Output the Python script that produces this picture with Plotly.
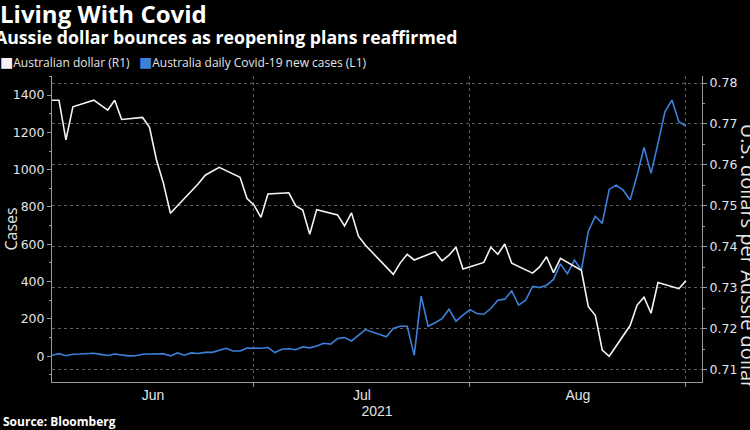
import pandas as pd
import plotly.graph_objects as go

# ---------------- data ----------------
aud_start, aud_end = "2021-06-01", "2021-08-31"
aud_values = [
    # June (business days)
    0.7758, 0.7758, 0.7661, 0.7742, 0.7758, 0.7746, 0.7734, 0.7758, 0.7711, 0.7716, 0.7692,
    0.7612, 0.7555, 0.7482, 0.7535, 0.7554, 0.7575, 0.7585, 0.7594, 0.7570, 0.7518, 0.7502,
    # July
    0.7472, 0.7529, 0.7532, 0.7500, 0.7490, 0.7431, 0.7491, 0.7478, 0.7451, 0.7483, 0.7426,
    0.7404, 0.7351, 0.7333, 0.7361, 0.7382, 0.7368, 0.7388, 0.7366, 0.7380, 0.7399, 0.7346,
    # August
    0.7362, 0.7399, 0.7382, 0.7407, 0.7360, 0.7336, 0.7351, 0.7376, 0.7337, 0.7372, 0.7343,
    0.7254, 0.7233, 0.7148, 0.7133, 0.7208, 0.7258, 0.7277, 0.7238, 0.7313, 0.7298, 0.7317,
]

case_start, case_end = "2021-06-01", "2021-08-31"
case_values = [
    # June (daily)
    5, 14, 3, 11, 12, 14, 16, 10, 4, 12, 7, 2, 3, 11, 12, 12, 13, 2, 18, 6,
    18, 15, 21, 21, 32, 43, 28, 28, 44, 43,
    # July
    43, 47, 20, 38, 40, 35, 50, 45, 55, 70, 65, 95, 100, 82, 110, 143, 130, 117, 104, 149,
    161, 161, 5, 322, 161, 180, 202, 252, 188, 220, 250,
    # August
    229, 225, 256, 300, 306, 350, 274, 300, 375, 368, 381, 412, 495, 442, 515, 462, 670, 750,
    712, 894, 917, 890, 837, 970, 1119, 980, 1141, 1310, 1373, 1257, 1234,
]

month_labels = ["Jun", "Jul", "Aug"]
month_ends = ["2021-06-30", "2021-07-31", "2021-08-31"]
year_label = "2021"
left_ticks = [0, 200, 400, 600, 800, 1000, 1200, 1400]
right_ticks = [0.71, 0.72, 0.73, 0.74, 0.75, 0.76, 0.77, 0.78]

title_text = "Living With Covid"
subtitle_text = "Aussie dollar bounces as reopening plans reaffirmed"
aud_name = "Australian dollar (R1)"
case_name = "Australia daily Covid-19 new cases (L1)"
left_title = "Cases"
right_title = "U.S. dollars per Aussie dollar"
source_text = "Source: Bloomberg"

# ---------------- styling ----------------
BLUE = "#3c80da"
WHITE = "#f4f4f4"
GRID = "#5e5e5e"
AXIS = "#9a9a9a"
TXT = "#e4e4e4"

aud_dates = pd.bdate_range(aud_start, aud_end)
case_dates = pd.date_range(case_start, case_end)

x_lo = pd.Timestamp("2021-06-01 00:00")
x_hi = pd.Timestamp("2021-09-02 07:40")

# label positions: centre of each visible month span
bounds = [x_lo] + [pd.Timestamp(m) for m in month_ends]
label_pos = [bounds[i] + (bounds[i + 1] - bounds[i]) / 2 for i in range(len(month_labels))]

fig = go.Figure()
fig.add_trace(go.Scatter(
    x=case_dates, y=case_values, name=case_name, mode="lines",
    line=dict(color=BLUE, width=1.6), yaxis="y",
))
fig.add_trace(go.Scatter(
    x=aud_dates, y=aud_values, name=aud_name, mode="lines",
    line=dict(color=WHITE, width=1.6), yaxis="y2",
))

fig.update_layout(
    width=750, height=430,
    margin=dict(l=52, r=48, t=76, b=48),
    paper_bgcolor="black", plot_bgcolor="black",
    showlegend=False,
    xaxis=dict(
        automargin=False,
        range=[x_lo, x_hi],
        tickmode="array", tickvals=label_pos, ticktext=month_labels,
        ticks="", showgrid=False, zeroline=False,
        showline=True, linecolor=AXIS, linewidth=1,
        tickfont=dict(family="Liberation Sans", size=14, color=TXT),
        title=dict(text=year_label, font=dict(family="Liberation Sans", size=14, color=TXT), standoff=0),
        minor=dict(tickmode="array", tickvals=month_ends, showgrid=True,
                   gridcolor=GRID, griddash="dot", gridwidth=1,
                   ticks="outside", ticklen=4, tickcolor=AXIS),
    ),
    yaxis=dict(
        automargin=False,
        range=[-137.9, 1501.9],
        tickmode="array", tickvals=left_ticks,
        ticks="outside", ticklen=4, tickcolor=AXIS,
        showgrid=False, zeroline=False,
        showline=True, linecolor=AXIS, linewidth=1,
        tickfont=dict(family="DejaVu Sans", size=12.5, color=TXT),
        minor=dict(dtick=100, tick0=0, ticks="outside", ticklen=2, tickcolor=AXIS, showgrid=False),
        title=dict(text=left_title, font=dict(family="Open Sans", size=16, color=TXT), standoff=5),
    ),
    yaxis2=dict(
        automargin=False,
        overlaying="y", side="right",
        range=[0.70702, 0.78171],
        tickmode="array", tickvals=right_ticks, tickformat=".2f",
        ticks="outside", ticklen=4, tickcolor=AXIS,
        showgrid=True, gridcolor=GRID, griddash="dot", gridwidth=1,
        zeroline=False,
        showline=True, linecolor=AXIS, linewidth=1,
        tickfont=dict(family="DejaVu Sans", size=12.5, color=TXT),
        minor=dict(dtick=0.005, tick0=0.705, ticks="outside", ticklen=2, tickcolor=AXIS, showgrid=False),
    ),
)

legend_html = (
    f"<span style='color:{WHITE};font-family:DejaVu Sans;font-size:14px'>\u25a0</span>{aud_name}"
    "\u00a0\u00a0\u00a0"
    f"<span style='color:{BLUE};font-family:DejaVu Sans;font-size:14px'>\u25a0</span>{case_name}"
)

annotations = [
    dict(text=f"<b>{title_text}</b>", x=-0.0831, y=1.2036, xanchor="left", yanchor="middle",
         font=dict(family="Open Sans", size=24, color="white")),
    dict(text=f"<b>{subtitle_text}</b>", x=-0.0908, y=1.1261, xanchor="left", yanchor="middle",
         font=dict(family="Open Sans", size=17.7, color="white")),
    dict(text=legend_html, x=-0.0831, y=1.0425, xanchor="left", yanchor="middle",
         font=dict(family="Open Sans", size=12, color=TXT)),
    dict(text=right_title, textangle=90, x=1.072, y=0.4101, xanchor="center", yanchor="middle",
         font=dict(family="Open Sans", size=20, color=TXT)),
    dict(text=f"<b>{source_text}</b>", x=-0.0785, y=-0.1307, xanchor="left", yanchor="middle",
         font=dict(family="Open Sans", size=12, color="white")),
]
for a in annotations:
    a.update(xref="paper", yref="paper", showarrow=False)
fig.update_layout(annotations=annotations)

fig.write_html("out.html")
